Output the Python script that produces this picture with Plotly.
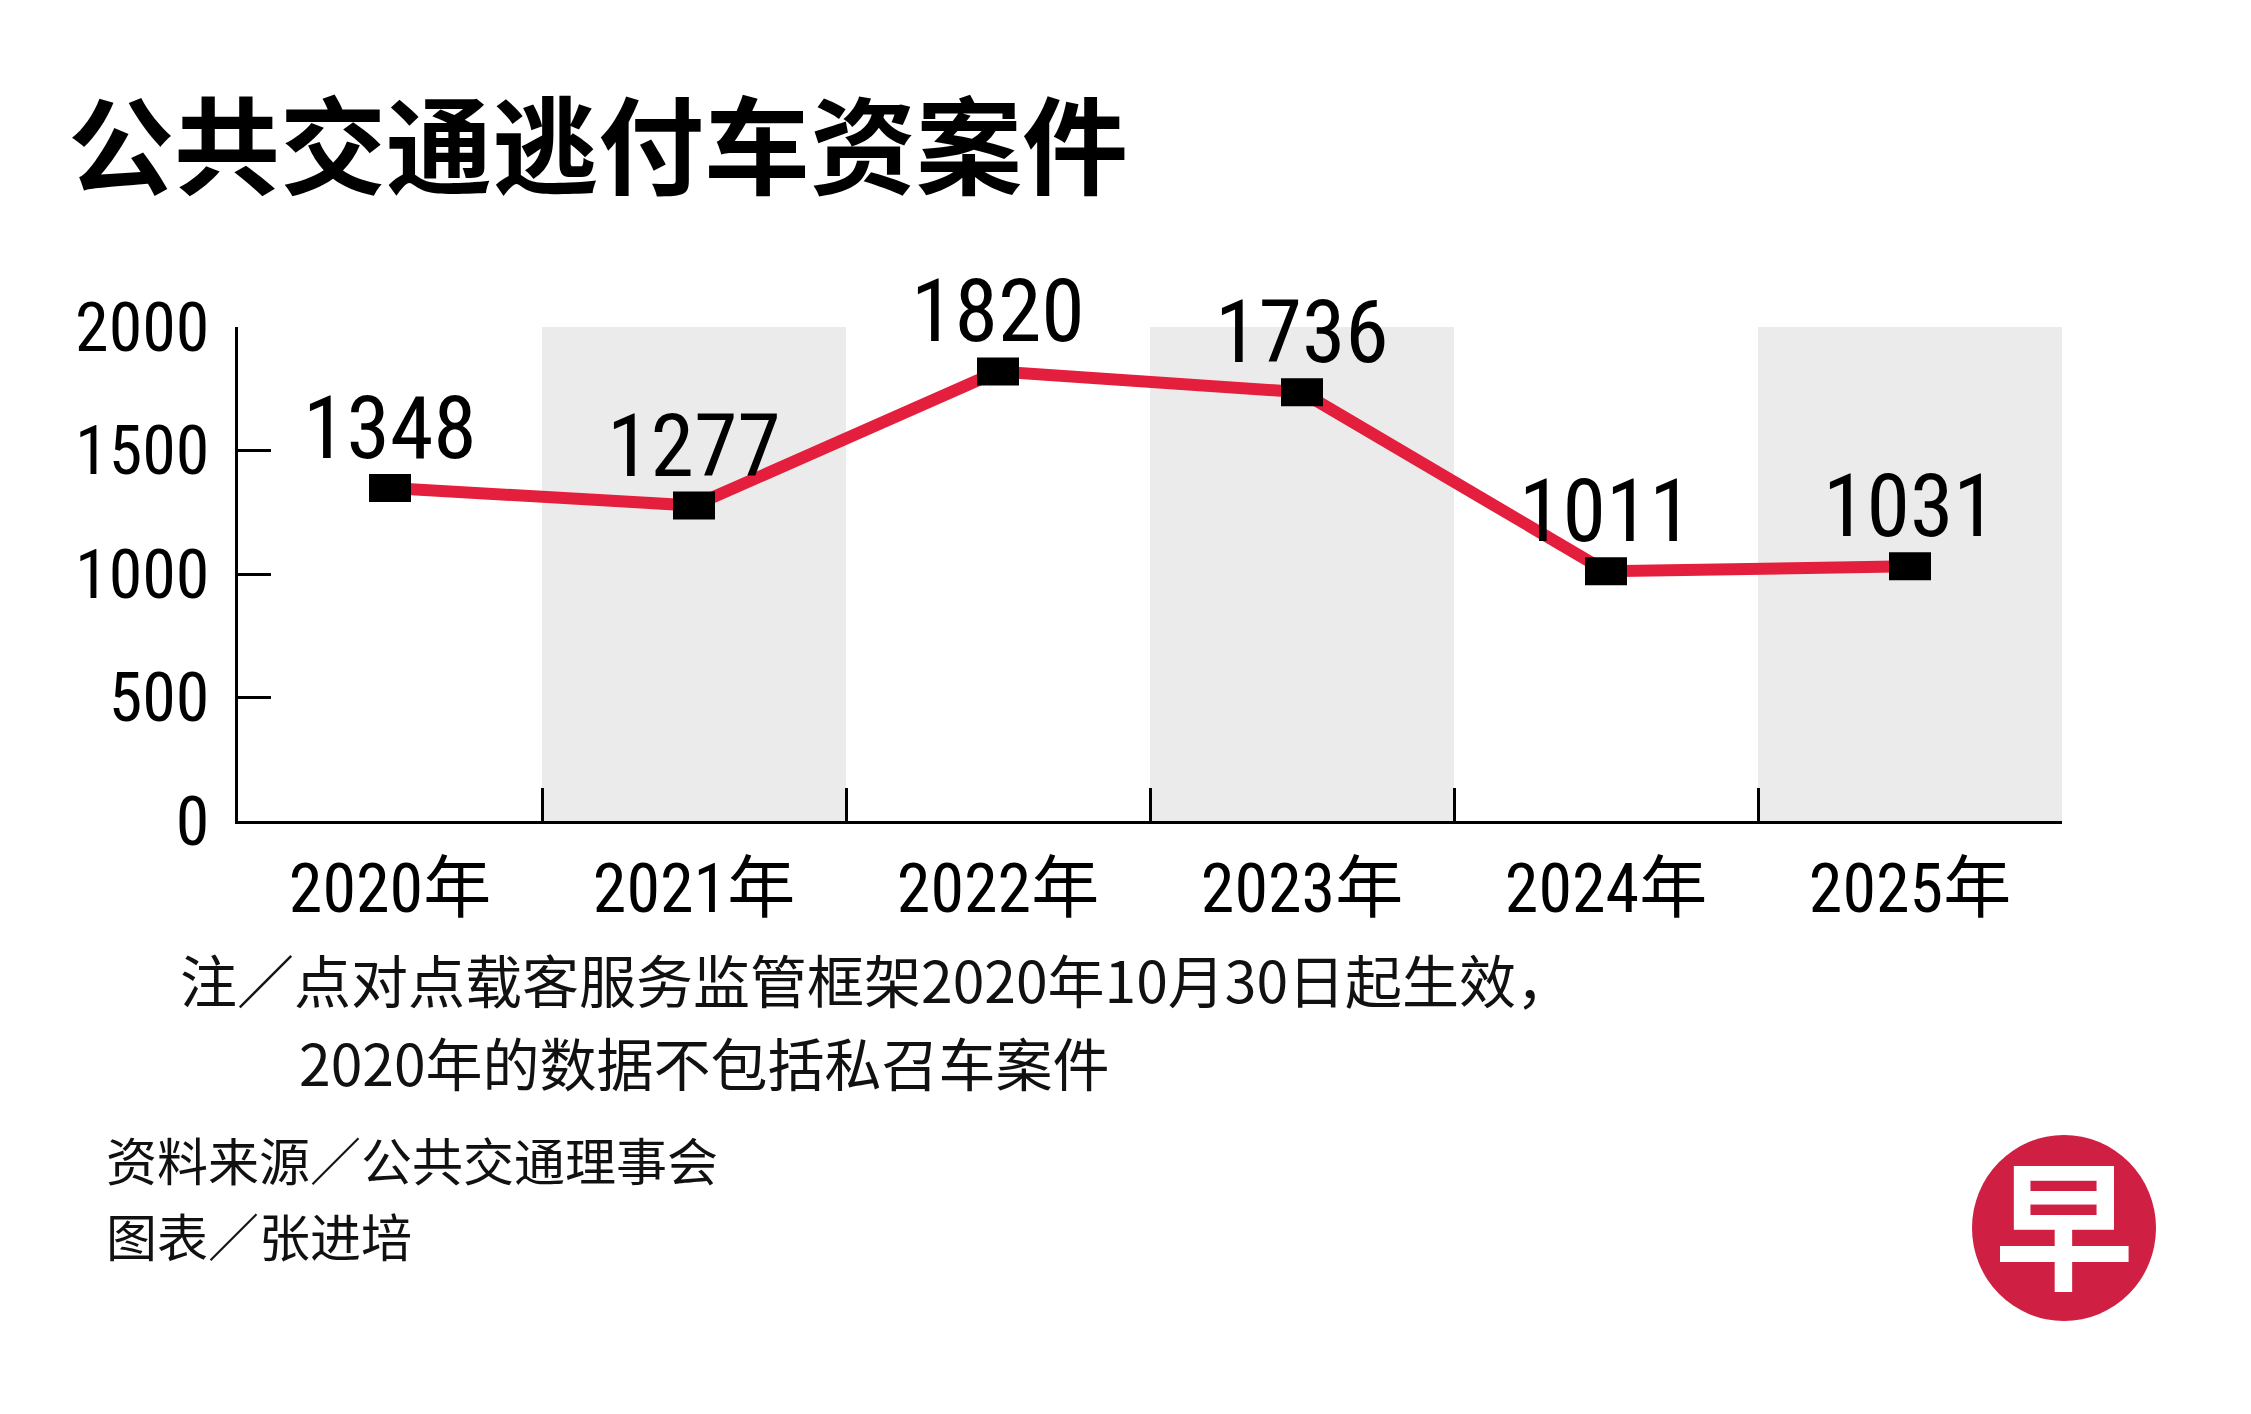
import plotly.graph_objects as go

# ---- data ----
years = ["2020年", "2021年", "2022年", "2023年", "2024年", "2025年"]
cases = [1348, 1277, 1820, 1736, 1011, 1031]
shaded_years = ["2021年", "2023年", "2025年"]
y_ticks = [0, 500, 1000, 1500, 2000]
y_max = 2000

title_text = "公共交通逃付车资案件"
note_line1 = "注／点对点载客服务监管框架2020年10月30日起生效，"
note_line2 = "2020年的数据不包括私召车案件"
source_text = "资料来源／公共交通理事会"
credit_text = "图表／张进培"
logo_char = "早"

# ---- layout geometry (pixels) ----
W, H = 2251, 1414
L, R, T, B = 238, 2062, 327, 821
PW, PH = R - L, B - T


def px(x):
    return (x - L) / PW


def py(y):
    return (B - y) / PH


NUM_FONT = "Roboto Condensed, DejaVu Sans Condensed, Noto Sans CJK SC, sans-serif"
CJK_FONT = "Noto Sans CJK SC, Noto Sans, sans-serif"

fig = go.Figure()

fig.add_trace(go.Scatter(
    x=years, y=cases, mode="lines",
    line=dict(color="#e41f3d", width=12),
    hoverinfo="x+y", showlegend=False,
))

shapes = []
for yr in shaded_years:
    i = years.index(yr)
    shapes.append(dict(type="rect", xref="x", yref="y", x0=i - 0.5, x1=i + 0.5,
                       y0=0, y1=y_max, fillcolor="#ebebeb", line_width=0, layer="below"))
for i, v in enumerate(cases):
    shapes.append(dict(type="rect", xref="x", yref="y", xsizemode="pixel", ysizemode="pixel",
                       xanchor=i, yanchor=v, x0=-21, x1=21, y0=-14, y1=14,
                       fillcolor="black", line_width=0, layer="above"))
shapes.append(dict(type="circle", xref="paper", yref="paper",
                   x0=px(1972), x1=px(2156), y0=py(1321), y1=py(1135),
                   fillcolor="#cf1f42", line_width=0, layer="above"))

annotations = []
for yr, v in zip(years, cases):
    annotations.append(dict(x=yr, y=v, xref="x", yref="y", text=str(v), showarrow=False,
                            xanchor="center", yanchor="bottom", yshift=7,
                            font=dict(family=NUM_FONT, size=88, color="black")))

annotations += [
    dict(x=px(66), y=py(140), xref="paper", yref="paper", text=f"<b>{title_text}</b>",
         showarrow=False, xanchor="left", yanchor="middle",
         font=dict(family=CJK_FONT, size=106, color="black", weight=900)),
    dict(x=px(178), y=py(978), xref="paper", yref="paper", text=note_line1,
         showarrow=False, xanchor="left", yanchor="middle",
         font=dict(family=CJK_FONT, size=57, color="#111111")),
    dict(x=px(297), y=py(1061), xref="paper", yref="paper", text=note_line2,
         showarrow=False, xanchor="left", yanchor="middle",
         font=dict(family=CJK_FONT, size=57, color="#111111")),
    dict(x=px(104), y=py(1159), xref="paper", yref="paper", text=source_text,
         showarrow=False, xanchor="left", yanchor="middle",
         font=dict(family=CJK_FONT, size=51, color="#111111")),
    dict(x=px(104), y=py(1235), xref="paper", yref="paper", text=credit_text,
         showarrow=False, xanchor="left", yanchor="middle",
         font=dict(family=CJK_FONT, size=51, color="#111111")),
    dict(x=px(2064), y=py(1218), xref="paper", yref="paper", text=f"<b>{logo_char}</b>",
         showarrow=False, xanchor="center", yanchor="middle",
         font=dict(family=CJK_FONT, size=140, color="white", weight=900)),
]

fig.update_layout(
    width=W, height=H,
    margin=dict(l=L, r=W - R, t=T, b=H - B, pad=0),
    paper_bgcolor="white", plot_bgcolor="white",
    shapes=shapes, annotations=annotations,
    showlegend=False,
)

fig.update_xaxes(
    type="category", categoryorder="array", categoryarray=years,
    range=[-0.5, len(years) - 0.5],
    showline=True, linecolor="black", linewidth=3,
    ticks="inside", tickson="boundaries", ticklen=33, tickwidth=3, tickcolor="black",
    showgrid=False, zeroline=False,
    tickfont=dict(family=NUM_FONT, size=68, color="black"),
    ticklabelstandoff=6,
)
fig.update_yaxes(
    range=[0, y_max], tickvals=y_ticks,
    showline=True, linecolor="black", linewidth=3,
    ticks="inside", ticklen=33, tickwidth=3, tickcolor="black",
    showgrid=False, zeroline=False,
    tickfont=dict(family=NUM_FONT, size=68, color="black"),
    ticklabelstandoff=12,
)

fig.write_html("out.html", config={"displayModeBar": False},
               post_script="document.body.style.margin='0';")
